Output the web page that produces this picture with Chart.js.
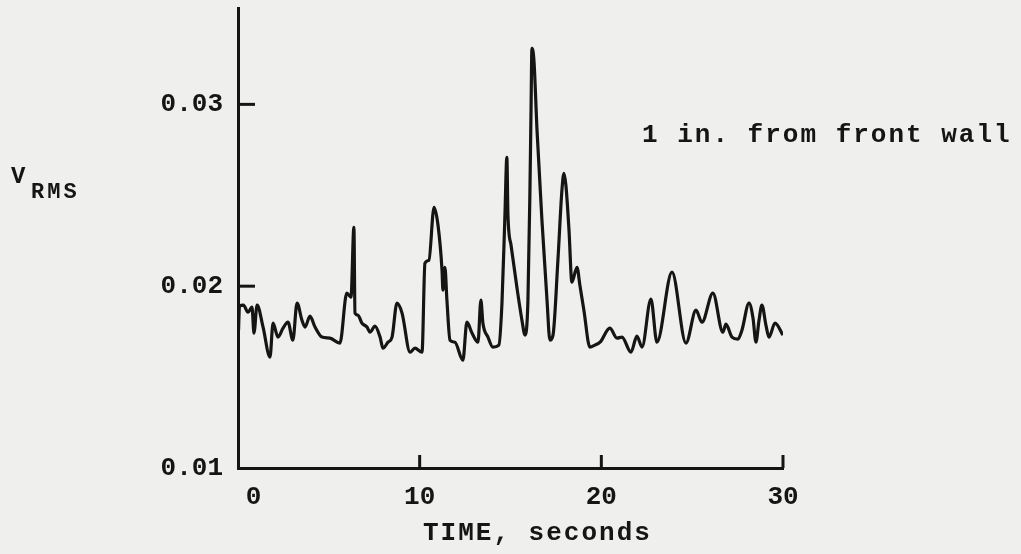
<!DOCTYPE html>
<html>
<head>
<meta charset="utf-8">
<script src="https://cdn.jsdelivr.net/npm/chart.js@4.4.1/dist/chart.umd.min.js"></script>
<style>
  html, body { margin: 0; padding: 0; background: #efefed; }
  #wrap { width: 1021px; height: 554px; position: relative; }
</style>
</head>
<body>
<div id="wrap"><canvas id="c"></canvas></div>
<script>
// Time (seconds) and V_RMS values
const times = [0.03, 0.08, 0.30, 0.55, 0.77, 0.88, 1.05, 1.38, 1.76, 1.93, 2.20, 2.48, 2.75, 3.02, 3.25, 3.52, 3.69, 3.96, 4.24, 4.62,
  5.06, 5.61, 5.99, 6.22, 6.38, 6.44, 6.60, 6.82, 7.10, 7.26, 7.54, 7.82, 7.98, 8.26, 8.48, 8.75, 9.03, 9.47, 9.74, 10.13,
  10.29, 10.51, 10.79, 11.01, 11.23, 11.28, 11.39, 11.50, 11.67, 11.94, 12.38, 12.60, 12.88, 13.21, 13.37, 13.48, 13.76, 14.03, 14.36, 14.53,
  14.69, 14.80, 14.86, 15.03, 15.35, 15.63, 15.80, 15.96, 16.07, 16.13, 16.18, 16.29, 16.46, 16.73, 17.01, 17.17, 17.34, 17.61, 17.83, 17.94,
  18.05, 18.22, 18.38, 18.66, 18.82, 19.04, 19.37, 19.65, 19.93, 20.47, 20.86, 21.14, 21.63, 21.96, 22.24, 22.73, 23.06, 23.89, 24.66, 25.21,
  25.54, 26.14, 26.69, 26.86, 27.19, 27.52, 27.74, 28.13, 28.35, 28.51, 28.68, 28.84, 29.06, 29.23, 29.56, 30.0];
const vrms = [0.01758, 0.01890, 0.01896, 0.01857, 0.01885, 0.01742, 0.01896, 0.01775, 0.01610, 0.01797, 0.01720, 0.01769, 0.01802, 0.01703, 0.01907, 0.01813, 0.01775, 0.01835, 0.01775, 0.01720,
  0.01714, 0.01687, 0.01962, 0.01940, 0.02324, 0.01852, 0.01841, 0.01797, 0.01775, 0.01747, 0.01780, 0.01720, 0.01659, 0.01692, 0.01720, 0.01907, 0.01852, 0.01637, 0.01659, 0.01637,
  0.02126, 0.02143, 0.02434, 0.02335, 0.02088, 0.01978, 0.02104, 0.01923, 0.01703, 0.01692, 0.01593, 0.01802, 0.01742, 0.01692, 0.01923, 0.01797, 0.01720, 0.01665, 0.01676, 0.01907,
  0.02379, 0.02709, 0.02390, 0.02225, 0.01995, 0.01813, 0.01731, 0.01923, 0.02527, 0.02967, 0.03308, 0.03242, 0.02857, 0.02363, 0.01923, 0.01703, 0.01731, 0.02143, 0.02527, 0.02621,
  0.02555, 0.02308, 0.02022, 0.02104, 0.02005, 0.01868, 0.01665, 0.01676, 0.01692, 0.01769, 0.01714, 0.01720, 0.01637, 0.01725, 0.01665, 0.01929, 0.01692, 0.02077, 0.01687, 0.01868,
  0.01802, 0.01962, 0.01747, 0.01791, 0.01720, 0.01709, 0.01758, 0.01907, 0.01824, 0.01692, 0.01813, 0.01896, 0.01786, 0.01720, 0.01797, 0.01731];

const xTicks = [0, 10, 20, 30];
const yTicks = [0.01, 0.02, 0.03];
const xRange = [0, 30];
const yRange = [0.01, 0.0353];
const annotation = "1 in. from front wall";
const xTitle = "TIME, seconds";
const yTitleMain = "V";
const yTitleSub = "RMS";

const INK = '#151515';
const FONT = '"Liberation Mono", "DejaVu Sans Mono", monospace';

const points = times.map((t, i) => ({ x: t, y: vrms[i] }));

const decor = {
  id: 'decor',
  afterDraw(chart) {
    const ctx = chart.ctx;
    const xs = chart.scales.x, ys = chart.scales.y;
    const x0 = xs.getPixelForValue(xRange[0]);
    const yb = ys.getPixelForValue(yRange[0]);
    ctx.save();
    ctx.strokeStyle = INK;
    ctx.lineWidth = 3;
    ctx.lineCap = 'butt';
    // inward ticks on y axis
    yTicks.slice(1).forEach(v => {
      const y = ys.getPixelForValue(v);
      ctx.beginPath(); ctx.moveTo(x0, y); ctx.lineTo(x0 + 17, y); ctx.stroke();
    });
    // inward ticks on x axis
    xTicks.slice(1).forEach(v => {
      const x = xs.getPixelForValue(v);
      ctx.beginPath(); ctx.moveTo(x, yb); ctx.lineTo(x, yb - 13); ctx.stroke();
    });
    // texts
    ctx.fillStyle = INK;
    ctx.textBaseline = 'alphabetic';
    ctx.textAlign = 'left';
    ctx.font = 'bold 26px ' + FONT;
    if ('letterSpacing' in ctx) ctx.letterSpacing = '2px';
    ctx.fillText(annotation, 642, 142);
    ctx.fillText(xTitle, 423, 540);
    ctx.font = 'bold 24px ' + FONT;
    if ('letterSpacing' in ctx) ctx.letterSpacing = '0px';
    ctx.fillText(yTitleMain, 11, 183);
    ctx.font = 'bold 22px ' + FONT;
    if ('letterSpacing' in ctx) ctx.letterSpacing = '3px';
    ctx.fillText(yTitleSub, 31, 198);
    ctx.restore();
  }
};

new Chart(document.getElementById('c'), {
  type: 'line',
  data: {
    datasets: [{
      data: points,
      borderColor: INK,
      borderWidth: 3.2,
      pointRadius: 0,
      fill: false,
      cubicInterpolationMode: 'monotone'
    }]
  },
  options: {
    responsive: true,
    maintainAspectRatio: false,
    animation: false,
    devicePixelRatio: 1,
    layout: { padding: { top: 8, right: 238, left: 0, bottom: 0 } },
    plugins: { legend: { display: false }, tooltip: { enabled: false } },
    scales: {
      x: {
        type: 'linear',
        min: xRange[0], max: xRange[1],
        afterFit(s) { s.height = 86; s.paddingLeft = 0; s.paddingRight = 0; },
        afterBuildTicks(s) { s.ticks = xTicks.map(v => ({ value: v })); },
        grid: { display: false, drawTicks: false },
        border: { display: true, color: INK, width: 3 },
        ticks: { color: INK, padding: 14, font: { family: FONT, size: 26, weight: 'bold' }, callback: v => (v === 0 ? '  0' : String(v)), maxRotation: 0 }
      },
      y: {
        type: 'linear',
        min: yRange[0], max: yRange[1],
        afterFit(s) { s.width = 238; s.paddingTop = 0; s.paddingBottom = 0; },
        afterBuildTicks(s) { s.ticks = yTicks.map(v => ({ value: v })); },
        grid: { display: false, drawTicks: false },
        border: { display: true, color: INK, width: 3 },
        ticks: { color: INK, padding: 15, font: { family: FONT, size: 26, weight: 'bold' }, callback: v => v.toFixed(2) }
      }
    }
  },
  plugins: [decor]
});
</script>
</body>
</html>
